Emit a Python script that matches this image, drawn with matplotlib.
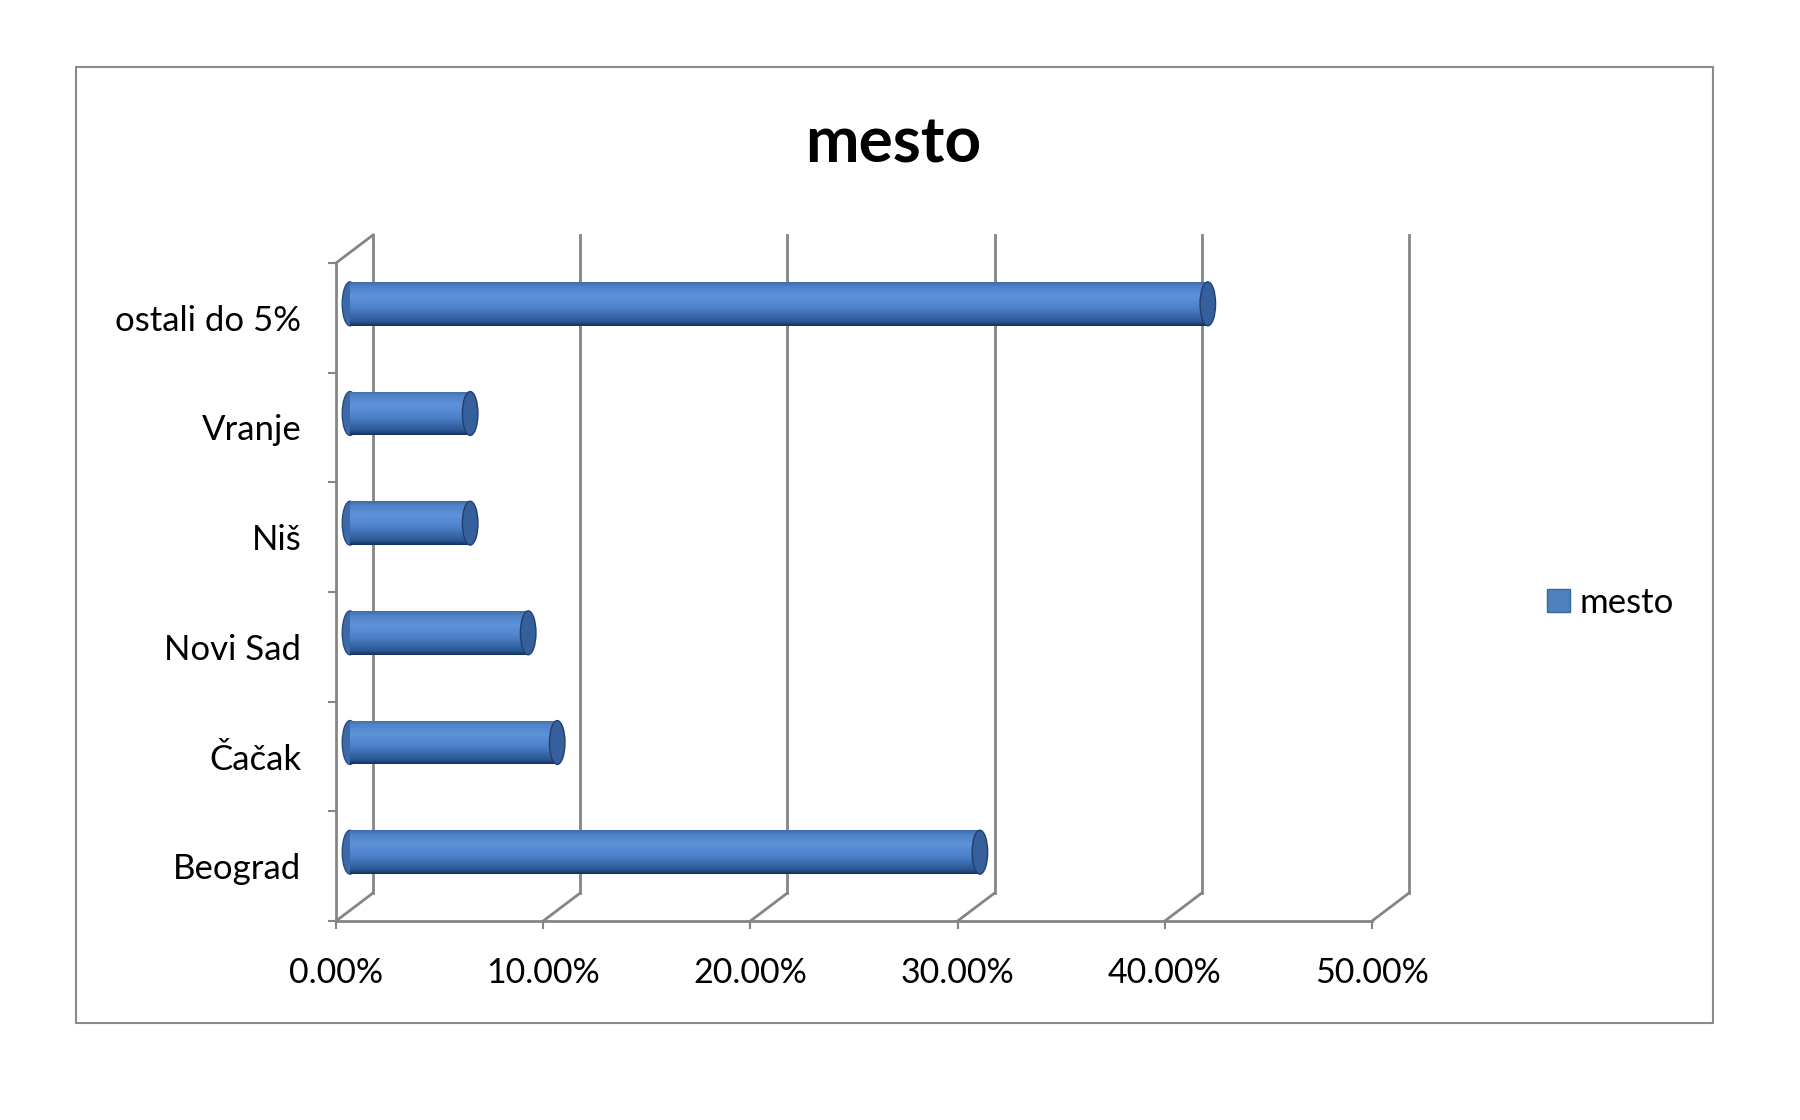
import numpy as np
import matplotlib
matplotlib.use('Agg')
import matplotlib.pyplot as plt
import matplotlib.transforms as mtransforms
from matplotlib.colors import LinearSegmentedColormap
from matplotlib.patches import Ellipse, Rectangle, Patch

plt.rcParams['font.family'] = ['Lato', 'DejaVu Sans']

# data (percent), bottom to top
cities = ['Beograd', 'Čačak', 'Novi Sad', 'Niš', 'Vranje', 'ostali do 5%']
shares = [30.4, 10.0, 8.6, 5.8, 5.8, 41.4]
xticks = [0, 10, 20, 30, 40, 50]
xlabels = ['0.00%', '10.00%', '20.00%', '30.00%', '40.00%', '50.00%']
series_name = 'mesto'

grid_col = '#858585'
depth_x, depth_y = 37, 28  # pixels, 3d depth of the plot box

fig = plt.figure(figsize=(18, 11.2), dpi=100)
fig.patches.append(Rectangle((76 / 1800, 97 / 1120), 1637 / 1800, 956 / 1120,
                             transform=fig.transFigure, fill=False,
                             edgecolor='#8a8a8a', lw=1.5))

ax = fig.add_axes([336 / 1800, 199 / 1120, 1036 / 1800, 658 / 1120])
ax.set_xlim(0, 50)
ax.set_ylim(0, len(cities))
for s in ax.spines.values():
    s.set_visible(False)

back = mtransforms.offset_copy(ax.transData, fig, x=depth_x, y=depth_y, units='dots')
mid = mtransforms.offset_copy(ax.transData, fig, x=14, y=depth_y / 2, units='dots')


def shift(x, y):
    # data point moved to the back wall of the box
    d = ax.transData.transform((x, y)) + np.array([depth_x, depth_y])
    return ax.transData.inverted().transform(d)


ny = len(cities)
# back gridlines and floor diagonals
for x in xticks:
    ax.plot([x, x], [0, ny], color=grid_col, lw=2, transform=back, clip_on=False, zorder=1)
    bx, by = shift(x, 0)
    ax.plot([x, bx], [0, by], color=grid_col, lw=2, clip_on=False, zorder=1)
# left wall top diagonal
bx, by = shift(0, ny)
ax.plot([0, bx], [ny, by], color=grid_col, lw=2, clip_on=False, zorder=1)
# front axes lines
ax.plot([0, 50], [0, 0], color=grid_col, lw=2, clip_on=False, zorder=2)
ax.plot([0, 0], [0, ny], color=grid_col, lw=2, clip_on=False, zorder=2)

# cylinders
cmap = LinearSegmentedColormap.from_list('cyl', [
    (0.0, '#14305a'), (0.1, '#2b5794'), (0.4, '#4c80c8'),
    (0.68, '#5e92da'), (0.9, '#4f82c6'), (1.0, '#3e6cae')])
grad = np.linspace(0, 1, 200).reshape(-1, 1)
ypos = np.arange(ny) + 0.5
bh = 0.4
cap_w = 0.75
bars = ax.barh(ypos, shares, height=bh, color='#4f81bd', transform=mid, zorder=3)
for rect, y, v in zip(bars, ypos, shares):
    ax.add_patch(Ellipse((0, y), cap_w, bh, facecolor='#3c6aa8', edgecolor='#274c82',
                         lw=1, transform=mid, zorder=2.9))
    im = ax.imshow(grad, cmap=cmap, aspect='auto', origin='lower',
                   extent=[0, v, y - bh / 2, y + bh / 2], zorder=3.1)
    im.set_transform(mid)
    im.set_clip_path(rect)
    ax.add_patch(Ellipse((v, y), cap_w, bh, facecolor='#35609c', edgecolor='#203f70',
                         lw=1, transform=mid, zorder=3.2))
ax.set_xlim(0, 50)
ax.set_ylim(0, ny)

# ticks
ax.set_xticks(xticks)
ax.set_xticklabels(xlabels)
ax.set_yticks(ypos)
ax.set_yticklabels(cities)
ax.set_yticks(range(ny + 1), minor=True)
ax.tick_params(axis='x', length=6, width=1.5, color=grid_col, pad=20, labelsize=24.5)
ax.tick_params(axis='y', which='major', length=0, pad=25, labelsize=25)
ax.tick_params(axis='y', which='minor', length=6, width=1.5, color=grid_col)

fig.text(0.496, 0.871, 'mesto', ha='center', va='center', fontsize=46, fontweight='bold')

fig.legend(handles=[Patch(facecolor='#4f81bd', edgecolor='#3a65a0')], labels=[series_name],
           loc='center left', bbox_to_anchor=(1547 / 1800, 1 - 603 / 1120),
           frameon=False, fontsize=25, handlelength=0.65, handleheight=0.65,
           handletextpad=0.3, borderpad=0, borderaxespad=0)

fig.savefig('out.png', dpi=100)
